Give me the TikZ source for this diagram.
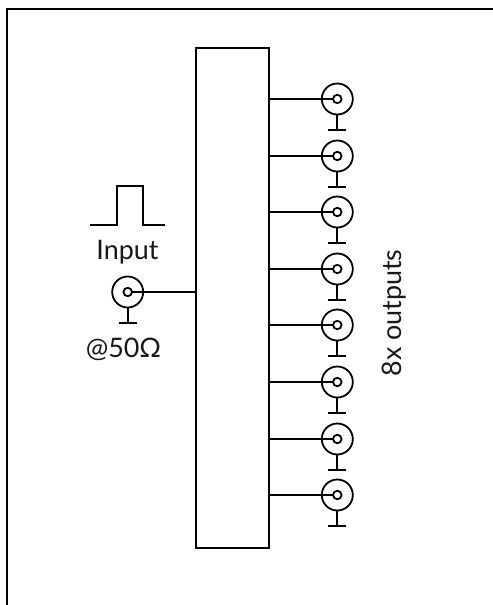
\documentclass[tikz,border=0pt]{standalone}
\usepackage{fontspec}
\setmainfont{Lato}
\tikzset{
  ln/.style={line width=1.8bp,black},
  outerring/.style={circle,draw,ln,minimum size=31bp,inner sep=0pt,outer sep=0pt},
  innerring/.style={circle,draw,ln,minimum size=8.5bp,inner sep=0pt,outer sep=0pt},
  lbl/.style={font=\fontsize{27}{30}\selectfont,text=black!90,inner sep=0pt,outer sep=0pt},
  gndbar/.style={ln}
}
\begin{document}
\begin{tikzpicture}[x=1bp,y=-1bp]
\useasboundingbox (0,0) rectangle (493,605);
\fill[white] (0,0) rectangle (493,605);
% frame edges
\coordinate (fa) at (493,9);
\coordinate (fb) at (7,9);
\coordinate (fc) at (7,605);
\draw[ln] (fa) -- (fb) -- (fc);
% splitter box
\node[draw,ln,minimum width=73bp,minimum height=500bp,inner sep=0pt,outer sep=0pt] (box) at (232.5,298) {};
% input
\node[outerring] (inO) at (127.7,292) {};
\node[innerring] (inI) at (127.7,292) {};
\coordinate (inG) at (127.7,323);
\draw[ln] (inO.south) -- (inG);
\draw[gndbar] ([xshift=-9bp]inG) -- ([xshift=9bp]inG);
\draw[ln] (inI.east) -- (inI.east -| box.west);
% pulse
\coordinate (p0) at (90,225);
\coordinate (p1) at (117,225);
\coordinate (p2) at (117,186);
\coordinate (p3) at (143,186);
\coordinate (p4) at (143,225);
\coordinate (p5) at (165,225);
\draw[ln] (p0) -- (p1) -- (p2) -- (p3) -- (p4) -- (p5);
\node[lbl,anchor=base] (inputlabel) at (127.5,259) {Input};
\node[lbl,anchor=base] (ohm) at (123.5,357.5) {@50Ω};
\node[lbl,anchor=base,rotate=90] (outs) at (401,313) {8x outputs};
% outputs
\foreach \i/\yy in {0/99,1/156,2/212,3/269,4/325,5/382,6/439,7/495}{
  \node[outerring] (o\i) at (337.3,\yy) {};
  \node[innerring] (c\i) at (337.3,\yy) {};
  \coordinate (g\i) at (337.3,\yy+31);
  \draw[ln] (o\i.south) -- (g\i);
  \draw[gndbar] ([xshift=-9bp]g\i) -- ([xshift=9bp]g\i);
  \draw[ln] (c\i.west -| box.east) -- (c\i.west);
}
\end{tikzpicture}
\end{document}
